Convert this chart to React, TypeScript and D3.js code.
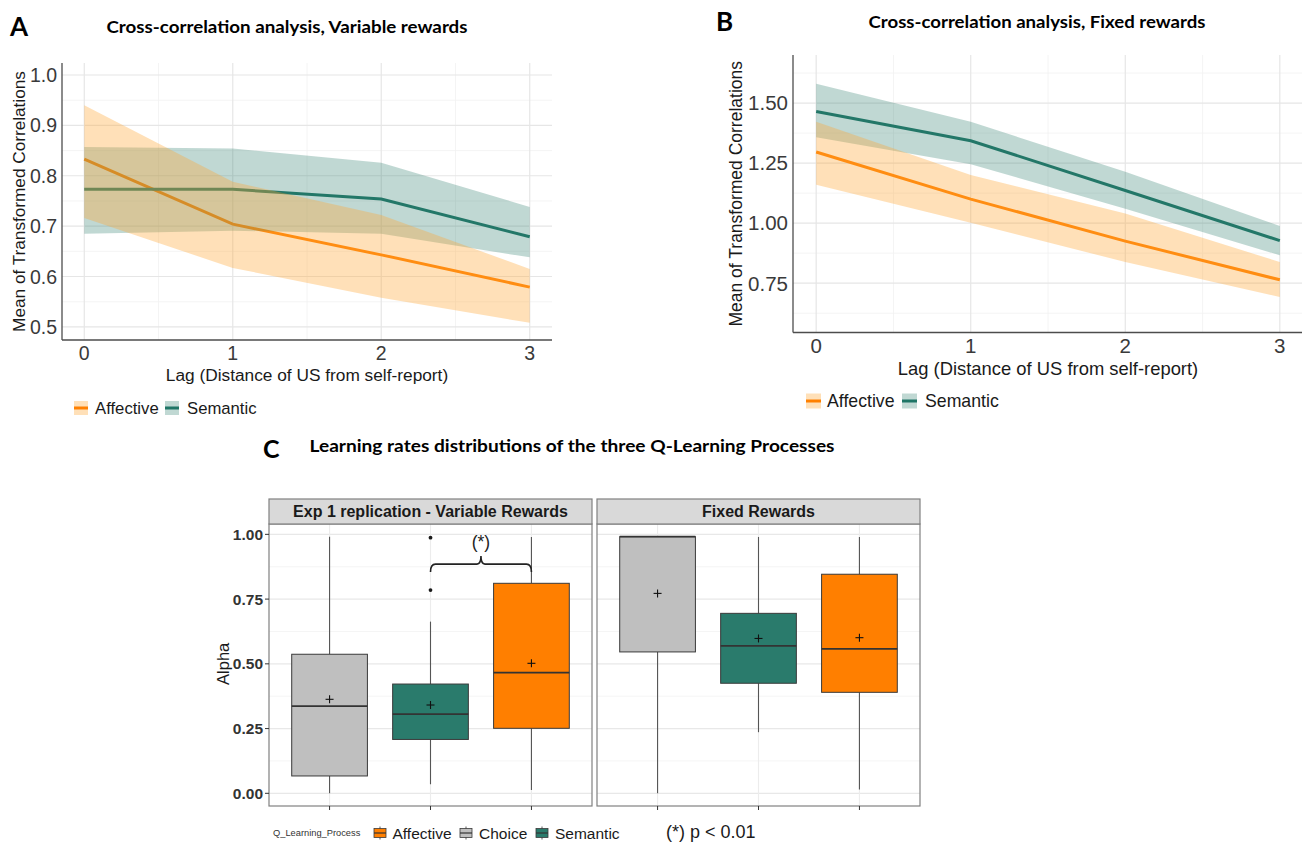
import React from "react";
import * as d3 from "d3";

// ---------- Data: panels A & B (lag cross-correlations) ----------
const lags = [0, 1, 2, 3];
const lagTickLabels = ["0", "1", "2", "3"];

const aAffMean = [0.833, 0.704, 0.643, 0.579];
const aAffLow = [0.716, 0.617, 0.558, 0.508];
const aAffHigh = [0.94, 0.788, 0.722, 0.615];
const aSemMean = [0.773, 0.773, 0.754, 0.679];
const aSemLow = [0.685, 0.691, 0.685, 0.638];
const aSemHigh = [0.857, 0.854, 0.826, 0.738];
const aYTicks = [0.5, 0.6, 0.7, 0.8, 0.9, 1.0];
const aYTickLabels = ["0.5", "0.6", "0.7", "0.8", "0.9", "1.0"];
const aYMinor = [0.55, 0.65, 0.75, 0.85, 0.95];

const bAffMean = [1.296, 1.1, 0.925, 0.764];
const bAffLow = [1.16, 1.002, 0.838, 0.692];
const bAffHigh = [1.422, 1.2, 1.04, 0.838];
const bSemMean = [1.465, 1.343, 1.136, 0.927];
const bSemLow = [1.358, 1.245, 1.06, 0.866];
const bSemHigh = [1.58, 1.422, 1.214, 0.988];
const bYTicks = [0.75, 1.0, 1.25, 1.5];
const bYTickLabels = ["0.75", "1.00", "1.25", "1.50"];
const bYMinor = [0.625, 0.875, 1.125, 1.375, 1.625];

const xMinor = [0.5, 1.5, 2.5];
const seriesNames = ["Affective", "Semantic"];

// ---------- Data: panel C (learning rates boxplots) ----------
const processes = ["Choice", "Semantic", "Affective"];
const facetLabels = ["Exp 1 replication - Variable Rewards", "Fixed Rewards"];

const varLow = [0.0, 0.035, 0.013];
const varQ1 = [0.067, 0.208, 0.251];
const varMedian = [0.337, 0.306, 0.466];
const varQ3 = [0.537, 0.422, 0.811];
const varHigh = [0.991, 0.663, 0.99];
const varMean = [0.363, 0.341, 0.502];
const varOutliers = [[], [0.785, 0.987], []];

const fixLow = [0.0, 0.236, 0.015];
const fixQ1 = [0.546, 0.425, 0.39];
const fixMedian = [0.991, 0.569, 0.558];
const fixQ3 = [0.991, 0.695, 0.846];
const fixHigh = [0.991, 0.99, 0.99];
const fixMean = [0.772, 0.598, 0.601];
const fixOutliers = [[], [], []];

const alphaTicks = [0, 0.25, 0.5, 0.75, 1.0];
const alphaTickLabels = ["0.00", "0.25", "0.50", "0.75", "1.00"];
const alphaMinor = [0.125, 0.375, 0.625, 0.875];
const legendOrder = ["Affective", "Choice", "Semantic"];

// ---------- Styling ----------
const ORANGE_LINE = "#ff8000";
const TEAL_LINE = "#1f7566";
const ORANGE_RIB = "#ffa533";
const TEAL_RIB = "#2e7d6e";
const BOX_FILL: Record<string, string> = {
  Choice: "#bfbfbf",
  Semantic: "#2a7b6c",
  Affective: "#ff7f00",
};
const SANS = "'Liberation Sans', Arial, sans-serif";
const TITLE_FONT = "Lato, 'Open Sans', sans-serif";

type LineCfg = {
  left: number;
  right: number;
  top: number;
  bottom: number;
  yDomain: [number, number];
  yTicks: number[];
  yTickLabels: string[];
  yMinor: number[];
  aff: [number[], number[], number[]];
  sem: [number[], number[], number[]];
  tickFont: number;
  tickLabelY: number;
  xLabelFont: number;
  xLabelY: number;
  yLabelFont: number;
  yLabelX: number;
  legendX: number[];
  legendTextX: number[];
  legendY: number;
  legendKey: number;
  legendFont: number;
};

function LinePanel({ c }: { c: LineCfg }) {
  const x = d3.scaleLinear().domain([-0.15, 3.15]).range([c.left, c.right]);
  const y = d3.scaleLinear().domain(c.yDomain).range([c.bottom, c.top]);
  const area = (lo: number[], hi: number[]) =>
    d3
      .area<number>()
      .x((d) => x(d))
      .y0((_, i) => y(lo[i]))
      .y1((_, i) => y(hi[i]))(lags) as string;
  const line = (m: number[]) =>
    d3
      .line<number>()
      .x((d) => x(d))
      .y((_, i) => y(m[i]))(lags) as string;
  const midY = (c.top + c.bottom) / 2;
  const midX = (c.left + c.right) / 2;
  return (
    <g>
      {c.yMinor.map((v) => (
        <line key={"ym" + v} x1={c.left} x2={c.right} y1={y(v)} y2={y(v)} stroke="#f1f1f1" strokeWidth={0.8} />
      ))}
      {xMinor.map((v) => (
        <line key={"xm" + v} x1={x(v)} x2={x(v)} y1={c.top} y2={c.bottom} stroke="#f1f1f1" strokeWidth={0.8} />
      ))}
      {c.yTicks.map((v) => (
        <line key={"yM" + v} x1={c.left} x2={c.right} y1={y(v)} y2={y(v)} stroke="#e6e6e6" strokeWidth={1.2} />
      ))}
      {lags.map((v) => (
        <line key={"xM" + v} x1={x(v)} x2={x(v)} y1={c.top} y2={c.bottom} stroke="#e6e6e6" strokeWidth={1.2} />
      ))}
      {/* lines under ribbons, as in the original */}
      <path d={line(c.aff[0])} fill="none" stroke={ORANGE_LINE} strokeWidth={3} />
      <path d={line(c.sem[0])} fill="none" stroke={TEAL_LINE} strokeWidth={3} />
      <path d={area(c.sem[1], c.sem[2])} fill={TEAL_RIB} fillOpacity={0.3} />
      <path d={area(c.aff[1], c.aff[2])} fill={ORANGE_RIB} fillOpacity={0.35} />
      {/* axes */}
      <line x1={c.left} x2={c.left} y1={c.top} y2={c.bottom} stroke="#4d4d4d" strokeWidth={1.3} />
      <line x1={c.left} x2={c.right} y1={c.bottom} y2={c.bottom} stroke="#4d4d4d" strokeWidth={1.3} />
      {c.yTicks.map((v, i) => (
        <text key={"yl" + v} x={c.left - 5} y={y(v)} dy="0.36em" textAnchor="end" fontSize={c.tickFont} fill="#3a3a3a" fontFamily={SANS}>
          {c.yTickLabels[i]}
        </text>
      ))}
      {lags.map((v, i) => (
        <text key={"xl" + v} x={x(v)} y={c.tickLabelY} textAnchor="middle" fontSize={c.tickFont} fill="#3a3a3a" fontFamily={SANS}>
          {lagTickLabels[i]}
        </text>
      ))}
      <text x={midX} y={c.xLabelY} textAnchor="middle" fontSize={c.xLabelFont} fill="#1a1a1a" fontFamily={SANS}>
        Lag (Distance of US from self-report)
      </text>
      <text
        transform={`translate(${c.yLabelX},${midY}) rotate(-90)`}
        textAnchor="middle"
        fontSize={c.yLabelFont}
        fill="#1a1a1a"
        fontFamily={SANS}
      >
        Mean of Transformed Correlations
      </text>
      {seriesNames.map((s, i) => (
        <g key={s}>
          <rect
            x={c.legendX[i]}
            y={c.legendY - c.legendKey / 2}
            width={c.legendKey}
            height={c.legendKey}
            fill={i === 0 ? ORANGE_RIB : TEAL_RIB}
            fillOpacity={i === 0 ? 0.35 : 0.3}
          />
          <line
            x1={c.legendX[i]}
            x2={c.legendX[i] + c.legendKey}
            y1={c.legendY}
            y2={c.legendY}
            stroke={i === 0 ? ORANGE_LINE : TEAL_LINE}
            strokeWidth={3}
          />
          <text x={c.legendTextX[i]} y={c.legendY} dy="0.36em" fontSize={c.legendFont} fill="#1a1a1a" fontFamily={SANS}>
            {s}
          </text>
        </g>
      ))}
    </g>
  );
}

const cfgA: LineCfg = {
  left: 62,
  right: 552,
  top: 63,
  bottom: 340,
  yDomain: [0.474, 1.0238],
  yTicks: aYTicks,
  yTickLabels: aYTickLabels,
  yMinor: aYMinor,
  aff: [aAffMean, aAffLow, aAffHigh],
  sem: [aSemMean, aSemLow, aSemHigh],
  tickFont: 19.5,
  tickLabelY: 360,
  xLabelFont: 17.3,
  xLabelY: 381,
  yLabelFont: 17.2,
  yLabelX: 25,
  legendX: [74, 165],
  legendTextX: [95, 187],
  legendY: 408,
  legendKey: 14,
  legendFont: 16.7,
};

const cfgB: LineCfg = {
  left: 793,
  right: 1303,
  top: 55,
  bottom: 332.5,
  yDomain: [0.5445, 1.7],
  yTicks: bYTicks,
  yTickLabels: bYTickLabels,
  yMinor: bYMinor,
  aff: [bAffMean, bAffLow, bAffHigh],
  sem: [bSemMean, bSemLow, bSemHigh],
  tickFont: 20.5,
  tickLabelY: 353,
  xLabelFont: 18.4,
  xLabelY: 375,
  yLabelFont: 17.5,
  yLabelX: 742,
  legendX: [806, 902],
  legendTextX: [827, 925],
  legendY: 401,
  legendKey: 15,
  legendFont: 17.7,
};

// ---------- Panel C ----------
const cTop = 524;
const cBottom = 806;
const stripTop = 499;
const facetX: [number, number][] = [
  [269, 592],
  [597, 920],
];
const facetStats = [
  { low: varLow, q1: varQ1, med: varMedian, q3: varQ3, high: varHigh, mean: varMean, out: varOutliers },
  { low: fixLow, q1: fixQ1, med: fixMedian, q3: fixQ3, high: fixHigh, mean: fixMean, out: fixOutliers },
];

function BoxPanel() {
  const y = d3.scaleLinear().domain([-0.049, 1.04]).range([cBottom, cTop]);
  return (
    <g>
      {facetX.map(([x0, x1], f) => {
        const x = d3.scalePoint<string>().domain(processes).range([x0, x1]).padding(0.6);
        const bw = x.step() * 0.75;
        const st = facetStats[f];
        return (
          <g key={f}>
            <rect x={x0} y={cTop} width={x1 - x0} height={cBottom - cTop} fill="#ffffff" />
            {alphaMinor.map((v) => (
              <line key={"m" + v} x1={x0} x2={x1} y1={y(v)} y2={y(v)} stroke="#f2f2f2" strokeWidth={0.8} />
            ))}
            {alphaTicks.map((v) => (
              <line key={"M" + v} x1={x0} x2={x1} y1={y(v)} y2={y(v)} stroke="#e8e8e8" strokeWidth={1.2} />
            ))}
            {processes.map((p) => (
              <line key={"v" + p} x1={x(p)!} x2={x(p)!} y1={cTop} y2={cBottom} stroke="#ececec" strokeWidth={1.1} />
            ))}
            {processes.map((p, i) => {
              const cx = x(p)!;
              return (
                <g key={p}>
                  <line x1={cx} x2={cx} y1={y(st.low[i])} y2={y(st.q1[i])} stroke="#555" strokeWidth={1.1} />
                  <line x1={cx} x2={cx} y1={y(st.q3[i])} y2={y(st.high[i])} stroke="#555" strokeWidth={1.1} />
                  <rect
                    x={cx - bw / 2}
                    y={y(st.q3[i])}
                    width={bw}
                    height={y(st.q1[i]) - y(st.q3[i])}
                    fill={BOX_FILL[p]}
                    stroke="#3a3a3a"
                    strokeWidth={1}
                  />
                  <line x1={cx - bw / 2} x2={cx + bw / 2} y1={y(st.med[i])} y2={y(st.med[i])} stroke="#333" strokeWidth={1.8} />
                  {st.out[i].map((o) => (
                    <circle key={o} cx={cx} cy={y(o)} r={1.9} fill="#1a1a1a" />
                  ))}
                  <line x1={cx - 4} x2={cx + 4} y1={y(st.mean[i])} y2={y(st.mean[i])} stroke="#111" strokeWidth={1.1} />
                  <line x1={cx} x2={cx} y1={y(st.mean[i]) - 4} y2={y(st.mean[i]) + 4} stroke="#111" strokeWidth={1.1} />
                </g>
              );
            })}
            {f === 0 && (() => {
              const xa = x("Semantic")!;
              const xb = x("Affective")!;
              const lv = y(0.885);
              const ends = y(0.855);
              const peak = y(0.916);
              const mid = (xa + xb) / 2;
              const d = `M${xa},${ends} Q${xa},${lv} ${xa + 5},${lv} L${mid - 4},${lv} Q${mid},${lv} ${mid},${peak} Q${mid},${lv} ${mid + 4},${lv} L${xb - 5},${lv} Q${xb},${lv} ${xb},${ends}`;
              return (
                <g>
                  <path d={d} fill="none" stroke="#222" strokeWidth={1.6} />
                  <text x={mid} y={y(0.97)} dy="0.36em" textAnchor="middle" fontSize={17.5} fill="#222" fontFamily={SANS}>
                    (*)
                  </text>
                </g>
              );
            })()}
            <rect x={x0} y={cTop} width={x1 - x0} height={cBottom - cTop} fill="none" stroke="#808080" strokeWidth={1.2} />
            {processes.map((p) => (
              <line key={"t" + p} x1={x(p)!} x2={x(p)!} y1={cBottom} y2={cBottom + 4} stroke="#333" strokeWidth={1} />
            ))}
            <rect x={x0} y={stripTop} width={x1 - x0} height={cTop - stripTop} fill="#d9d9d9" stroke="#808080" strokeWidth={1.2} />
            <text
              x={(x0 + x1) / 2}
              y={(stripTop + cTop) / 2}
              dy="0.36em"
              textAnchor="middle"
              fontSize={16}
              fontWeight="bold"
              fill="#1a1a1a"
              fontFamily={SANS}
            >
              {facetLabels[f]}
            </text>
          </g>
        );
      })}
      {alphaTicks.map((v, i) => (
        <g key={"yt" + v}>
          <line x1={facetX[0][0] - 4} x2={facetX[0][0]} y1={y(v)} y2={y(v)} stroke="#333" strokeWidth={1} />
          <text x={facetX[0][0] - 6} y={y(v)} dy="0.36em" textAnchor="end" fontSize={15.5} fontWeight="bold" fill="#333" fontFamily={SANS}>
            {alphaTickLabels[i]}
          </text>
        </g>
      ))}
      <text transform={`translate(229,${y(0.5)}) rotate(-90)`} textAnchor="middle" fontSize={16.5} fill="#1a1a1a" fontFamily={SANS}>
        Alpha
      </text>
      {/* legend */}
      <text x={273} y={833} dy="0.36em" fontSize={9.3} fill="#333" fontFamily={SANS}>
        Q_Learning_Process
      </text>
      {legendOrder.map((p, i) => {
        const kx = [374, 460, 536][i];
        const tx = [392.5, 479, 555][i];
        const ky = 833;
        return (
          <g key={p}>
            <line x1={kx + 6} x2={kx + 6} y1={ky - 6.5} y2={ky + 6.5} stroke="#5c5c5c" strokeWidth={1} />
            <rect x={kx} y={ky - 4.5} width={12} height={9} fill={BOX_FILL[p]} stroke="#3a3a3a" strokeWidth={0.8} />
            <line x1={kx} x2={kx + 12} y1={ky} y2={ky} stroke="#333" strokeWidth={1.2} />
            <text x={tx} y={ky} dy="0.36em" fontSize={15.5} fill="#1a1a1a" fontFamily={SANS}>
              {p}
            </text>
          </g>
        );
      })}
      <text x={666} y={832} dy="0.36em" fontSize={18} fill="#1a1a1a" fontFamily={SANS}>
        (*) p &lt; 0.01
      </text>
    </g>
  );
}

export default function App() {
  return (
    <svg
      width={1302}
      height={843}
      viewBox="0 0 1302 843"
      style={{ position: "absolute", left: 0, top: 0, background: "#ffffff" }}
    >
      <rect x={0} y={0} width={1302} height={843} fill="#ffffff" />
      <text x={10} y={36} fontSize={26} fontWeight="bold" fill="#000" fontFamily={TITLE_FONT}>
        A
      </text>
      <text x={287} y={33} textAnchor="middle" fontSize={17} fontWeight="bold" fill="#000" fontFamily={TITLE_FONT} textLength={361} lengthAdjust="spacingAndGlyphs">
        Cross-correlation analysis, Variable rewards
      </text>
      <text x={716} y={31} fontSize={26} fontWeight="bold" fill="#000" fontFamily={TITLE_FONT}>
        B
      </text>
      <text x={1037} y={28} textAnchor="middle" fontSize={17} fontWeight="bold" fill="#000" fontFamily={TITLE_FONT} textLength={337} lengthAdjust="spacingAndGlyphs">
        Cross-correlation analysis, Fixed rewards
      </text>
      <text x={263} y={458} fontSize={25} fontWeight="bold" fill="#000" fontFamily={TITLE_FONT}>
        C
      </text>
      <text x={572} y={452} textAnchor="middle" fontSize={17} fontWeight="bold" fill="#000" fontFamily={TITLE_FONT} textLength={525} lengthAdjust="spacingAndGlyphs">
        Learning rates distributions of the three Q-Learning Processes
      </text>
      <LinePanel c={cfgA} />
      <LinePanel c={cfgB} />
      <BoxPanel />
    </svg>
  );
}
